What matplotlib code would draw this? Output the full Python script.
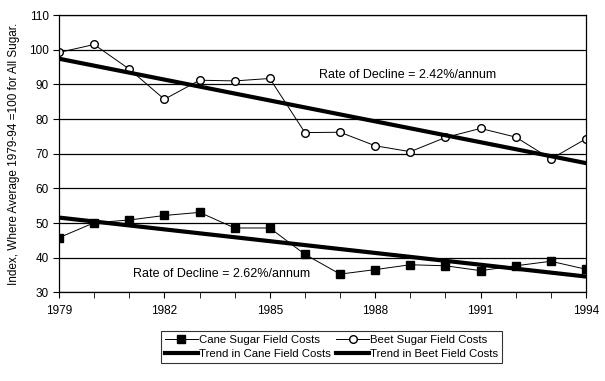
import numpy as np
import matplotlib.pyplot as plt

plt.rcParams['font.family'] = ['Liberation Sans', 'DejaVu Sans']

years = list(range(1979, 1995))
cane = [45.8, 50.1, 50.9, 52.2, 53.1, 48.6, 48.6, 41.0,
        35.3, 36.6, 38.0, 37.7, 36.3, 37.7, 39.0, 36.7]
beet = [99.2, 101.5, 94.4, 85.7, 91.2, 91.0, 91.7, 76.1,
        76.2, 72.3, 70.6, 74.7, 77.3, 74.8, 68.5, 74.3]
trend_years = [1979, 1994]
cane_trend = [51.6, 34.6]
beet_trend = [97.4, 67.3]

fig = plt.figure(figsize=(6.05, 3.81), dpi=100)
ax = fig.add_axes([0.0975, 0.2323, 0.8711, 0.7283])

ax.set_xlim(1979, 1994)
ax.set_ylim(30, 110)
ax.set_yticks(range(30, 111, 10))
ax.set_xticks(range(1979, 1995, 3))
ax.set_xticks(years, minor=True)
ax.yaxis.grid(True, color='black', linewidth=0.9)
ax.set_axisbelow(True)

l1, = ax.plot(years, cane, color='black', lw=0.7, marker='s', ms=5.3,
              mfc='black', mec='black', label='Cane Sugar Field Costs')
l2, = ax.plot(years, beet, color='black', lw=0.7, marker='o', ms=5.5,
              mfc='white', mec='black', label='Beet Sugar Field Costs')
l3, = ax.plot(trend_years, cane_trend, color='black', lw=3,
              label='Trend in Cane Field Costs')
l4, = ax.plot(trend_years, beet_trend, color='black', lw=3,
              label='Trend in Beet Field Costs')

ax.text(1981.1, 35.4, 'Rate of Decline = 2.62%/annum', fontsize=9,
        va='center')
ax.text(1986.4, 92.7, 'Rate of Decline = 2.42%/annum', fontsize=9,
        va='center')

for s in ax.spines.values():
    s.set_color('black')
    s.set_linewidth(0.9)
ax.tick_params(which='both', direction='out', color='black', labelsize=8.5)
ax.tick_params(which='major', length=4)
ax.tick_params(which='minor', length=4)
ax.tick_params(axis='x', pad=5)

ax.set_ylabel('Index, Where Average 1979-94 =100 for All Sugar.', fontsize=8.5,
              labelpad=6)

leg = fig.legend(handles=[l1, l3, l2, l4], ncol=2, loc='center',
                 bbox_to_anchor=(0.548, 0.0892), fontsize=8.2, frameon=True,
                 fancybox=False, edgecolor='black', borderpad=0.3,
                 handlelength=2.9, handletextpad=0.1, columnspacing=0.5,
                 labelspacing=0.4, borderaxespad=0)
leg.get_frame().set_linewidth(0.8)

fig.savefig('out.png', dpi=100)
